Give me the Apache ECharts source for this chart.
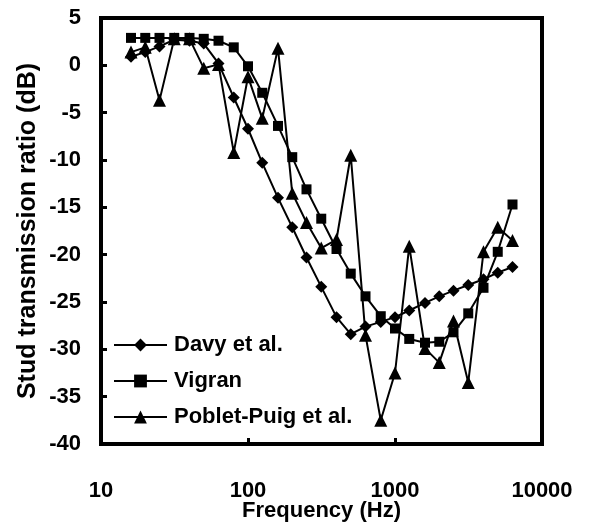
<!DOCTYPE html>
<html>
<head>
<meta charset="utf-8">
<script src="https://cdn.jsdelivr.net/npm/echarts@6/dist/echarts.min.js"></script>
<style>html,body{margin:0;padding:0;background:#fff}#c{width:591px;height:525px}</style>
</head>
<body>
<div id="c"></div>
<script>
const freqs = [16,20,25,31.5,40,50,63,80,100,125,160,200,250,315,400,500,630,800,1000,1250,1600,2000,2500,3150,4000,5000,6300];
const davy = [0.9,1.4,2.0,2.7,2.6,2.3,0.2,-3.4,-6.7,-10.3,-14.0,-17.1,-20.3,-23.4,-26.6,-28.4,-27.6,-27.1,-26.6,-25.9,-25.1,-24.4,-23.8,-23.2,-22.6,-21.9,-21.3];
const vigran = [2.9,2.9,2.9,2.9,2.9,2.8,2.6,1.9,-0.1,-2.9,-6.4,-9.7,-13.1,-16.2,-19.4,-22.0,-24.4,-26.5,-27.8,-28.9,-29.3,-29.2,-28.2,-26.2,-23.5,-19.7,-14.7];
const poblet = [1.4,1.9,-3.7,2.8,2.8,-0.3,0.1,-9.2,-1.2,-5.6,1.8,-13.5,-16.6,-19.3,-18.4,-9.5,-28.5,-37.5,-32.5,-19.1,-29.9,-31.4,-27.0,-33.5,-19.7,-17.1,-18.5];
const seriesNames = ['Davy et al.','Vigran','Poblet-Puig et al.'];
const xTitle = 'Frequency (Hz)';
const yTitle = 'Stud transmission ratio (dB)';

const pairs = v => freqs.map((f,i)=>[f,v[i]]);
const font = {fontFamily:'Liberation Sans, Arial, sans-serif', fontWeight:'bold', color:'#000'};
const chart = echarts.init(document.getElementById('c'));
const mk = (name, data, symbol, size) => ({
  name, type:'line', data: pairs(data), symbol, symbolSize:size,
  lineStyle:{color:'#000', width:2}, itemStyle:{color:'#000'}, animation:false
});
chart.setOption({
  animation:false,
  grid:{left:101, right:49, top:18, bottom:81, outerBoundsMode:'none', containLabel:false,
    show:true, borderColor:'#000', borderWidth:4, backgroundColor:'#fff'},
  xAxis:{type:'log', logBase:10, min:10, max:10000,
    name:xTitle, nameLocation:'middle', nameGap:56, nameMoveOverlap:false,
    nameTextStyle:Object.assign({fontSize:22},font),
    axisLine:{onZero:false, lineStyle:{color:'#000', width:4}},
    axisTick:{inside:true, length:6, lineStyle:{color:'#000', width:3}},
    minorTick:{show:false}, splitLine:{show:false},
    axisLabel:Object.assign({fontSize:22, margin:36, formatter: v => String(Math.round(v))}, font)},
  yAxis:{type:'value', min:-40, max:5, interval:5,
    name:yTitle, nameLocation:'middle', nameGap:60, nameMoveOverlap:false,
    nameTextStyle:Object.assign({fontSize:25},font),
    axisLine:{onZero:false, lineStyle:{color:'#000', width:4}},
    axisTick:{inside:true, length:6, lineStyle:{color:'#000', width:3}},
    splitLine:{show:false},
    axisLabel:Object.assign({fontSize:22, margin:20}, font)},
  legend:{orient:'vertical', left:108, top:329, itemWidth:53, itemHeight:16, itemGap:14,
    data:seriesNames,
    textStyle:Object.assign({fontSize:22, lineHeight:22, padding:[0,0,0,2]}, font)},
  series:[
    mk(seriesNames[0], davy, 'diamond', 12),
    mk(seriesNames[1], vigran, 'rect', 10),
    mk(seriesNames[2], poblet, 'triangle', 13)
  ]
});
</script>
</body>
</html>
